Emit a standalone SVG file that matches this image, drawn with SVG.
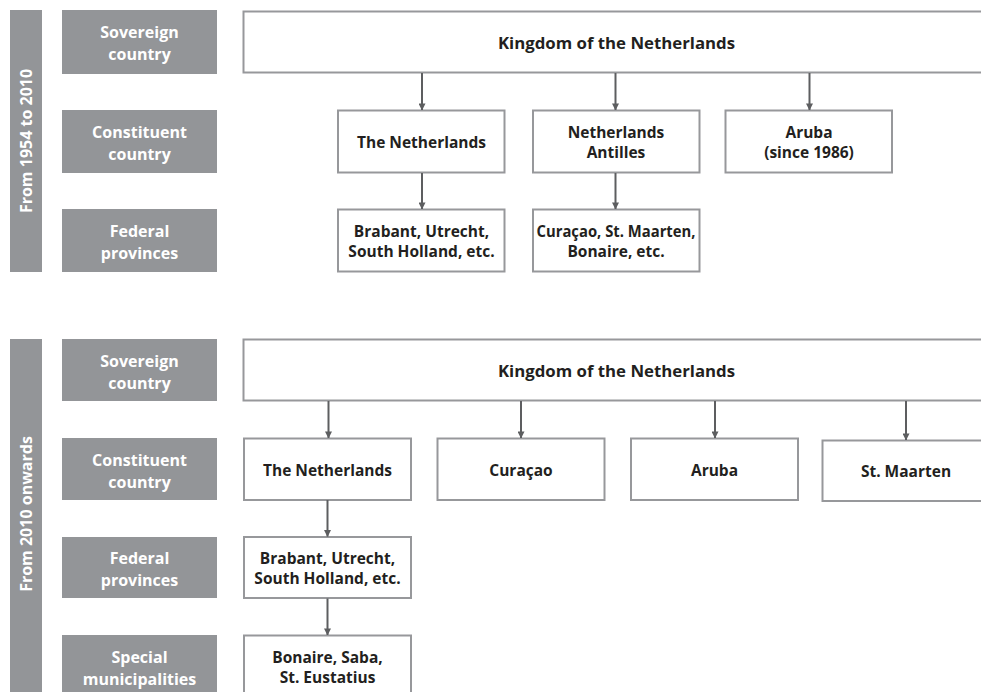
<svg xmlns="http://www.w3.org/2000/svg" width="981" height="692" viewBox="0 0 981 692">
<defs>
<style>
.lab{fill:#939598}
.labt{fill:#ffffff;font-family:"Open Sans",Lato,sans-serif;font-weight:bold;font-size:16px;text-anchor:middle}
.box{fill:#ffffff;stroke:#97989b;stroke-width:2}
.bt{fill:#231f20;font-family:"Open Sans",Lato,sans-serif;font-weight:bold;font-size:15.5px;text-anchor:middle}
.kt{font-size:16.8px}
.con{stroke:#5d5e60;stroke-width:2;fill:none;marker-end:url(#ah)}
</style>
<marker id="ah" viewBox="0 0 8 8" refX="7.5" refY="4" markerWidth="3.5" markerHeight="3.5" orient="auto" markerUnits="strokeWidth">
<path d="M0,0 L8,4 L0,8 z" fill="#5d5e60"/>
</marker>
</defs>
<rect width="981" height="692" fill="#ffffff"/>

<g id="period1">
<rect class="lab" x="10" y="10" width="32" height="262"/>
<text class="labt" transform="translate(32,141) rotate(-90)">From 1954 to 2010</text>
</g>
<g id="p1-sovereign-label"><rect class="lab" x="62" y="10" width="155" height="64"/><text class="labt" x="139.5" y="38">Sovereign</text><text class="labt" x="139.5" y="60">country</text></g>
<g id="p1-constituent-label"><rect class="lab" x="62" y="110" width="155" height="63"/><text class="labt" x="139.5" y="138">Constituent</text><text class="labt" x="139.5" y="160">country</text></g>
<g id="p1-federal-label"><rect class="lab" x="62" y="209" width="155" height="63"/><text class="labt" x="139.5" y="237">Federal</text><text class="labt" x="139.5" y="259">provinces</text></g>

<g id="p1-kingdom"><rect class="box" x="243.5" y="11.5" width="760" height="61"/><text class="bt kt" x="616.5" y="48.5">Kingdom of the Netherlands</text></g>
<g id="p1-netherlands"><rect class="box" x="338" y="110.5" width="166.5" height="62"/><text class="bt" x="421.5" y="148">The Netherlands</text></g>
<g id="p1-antilles"><rect class="box" x="533" y="110.5" width="166.5" height="62"/><text class="bt" x="616" y="138">Netherlands</text><text class="bt" x="616" y="158">Antilles</text></g>
<g id="p1-aruba"><rect class="box" x="725.5" y="110.5" width="166.5" height="62"/><text class="bt" x="809" y="138">Aruba</text><text class="bt" x="809" y="158">(since 1986)</text></g>
<g id="p1-provinces"><rect class="box" x="338" y="209.5" width="166.5" height="62"/><text class="bt" x="421.5" y="237">Brabant, Utrecht,</text><text class="bt" x="421.5" y="257">South Holland, etc.</text></g>
<g id="p1-antilles-islands"><rect class="box" x="533" y="209.5" width="166.5" height="62"/><text class="bt" x="616" y="237" textLength="159" lengthAdjust="spacingAndGlyphs">Curaçao, St. Maarten,</text><text class="bt" x="616" y="257">Bonaire, etc.</text></g>

<g id="period2">
<rect class="lab" x="10" y="339" width="32" height="360"/>
<text class="labt" transform="translate(32,514) rotate(-90)">From 2010 onwards</text>
</g>
<g id="p2-sovereign-label"><rect class="lab" x="62" y="339" width="155" height="62"/><text class="labt" x="139.5" y="366.5">Sovereign</text><text class="labt" x="139.5" y="388.5">country</text></g>
<g id="p2-constituent-label"><rect class="lab" x="62" y="438" width="155" height="62"/><text class="labt" x="139.5" y="465.5">Constituent</text><text class="labt" x="139.5" y="487.5">country</text></g>
<g id="p2-federal-label"><rect class="lab" x="62" y="537" width="155" height="61"/><text class="labt" x="139.5" y="564">Federal</text><text class="labt" x="139.5" y="586">provinces</text></g>
<g id="p2-special-label"><rect class="lab" x="62" y="635" width="155" height="63"/><text class="labt" x="139.5" y="663">Special</text><text class="labt" x="139.5" y="685">municipalities</text></g>

<g id="p2-kingdom"><rect class="box" x="243.5" y="339.5" width="760" height="61"/><text class="bt kt" x="616.5" y="376.5">Kingdom of the Netherlands</text></g>
<g id="p2-netherlands"><rect class="box" x="244" y="438.5" width="167" height="61.5"/><text class="bt" x="327.5" y="475.5">The Netherlands</text></g>
<g id="p2-curacao"><rect class="box" x="437.5" y="438.5" width="167" height="61.5"/><text class="bt" x="521" y="475.5">Curaçao</text></g>
<g id="p2-aruba"><rect class="box" x="631" y="438.5" width="167" height="61.5"/><text class="bt" x="714.5" y="475.5">Aruba</text></g>
<g id="p2-stmaarten"><rect class="box" x="822.5" y="440.5" width="170" height="60.5"/><text class="bt" x="906" y="477">St. Maarten</text></g>
<g id="p2-provinces"><rect class="box" x="244" y="537" width="167" height="61"/><text class="bt" x="327.5" y="564">Brabant, Utrecht,</text><text class="bt" x="327.5" y="584">South Holland, etc.</text></g>
<g id="p2-special"><rect class="box" x="244" y="635.5" width="167" height="63"/><text class="bt" x="327.5" y="663">Bonaire, Saba,</text><text class="bt" x="327.5" y="683">St. Eustatius</text></g>

<g id="connectors">
<line class="con" x1="422" y1="73" x2="422" y2="110"/>
<line class="con" x1="615.5" y1="73" x2="615.5" y2="110"/>
<line class="con" x1="809.5" y1="73" x2="809.5" y2="110"/>
<line class="con" x1="422" y1="173" x2="422" y2="209"/>
<line class="con" x1="615.5" y1="173" x2="615.5" y2="209"/>
<line class="con" x1="328.5" y1="401" x2="328.5" y2="438"/>
<line class="con" x1="521" y1="401" x2="521" y2="438"/>
<line class="con" x1="715" y1="401" x2="715" y2="438"/>
<line class="con" x1="906" y1="401" x2="906" y2="440"/>
<line class="con" x1="327.5" y1="500" x2="327.5" y2="536.5"/>
<line class="con" x1="327.5" y1="598.5" x2="327.5" y2="635"/>
</g>
</svg>
